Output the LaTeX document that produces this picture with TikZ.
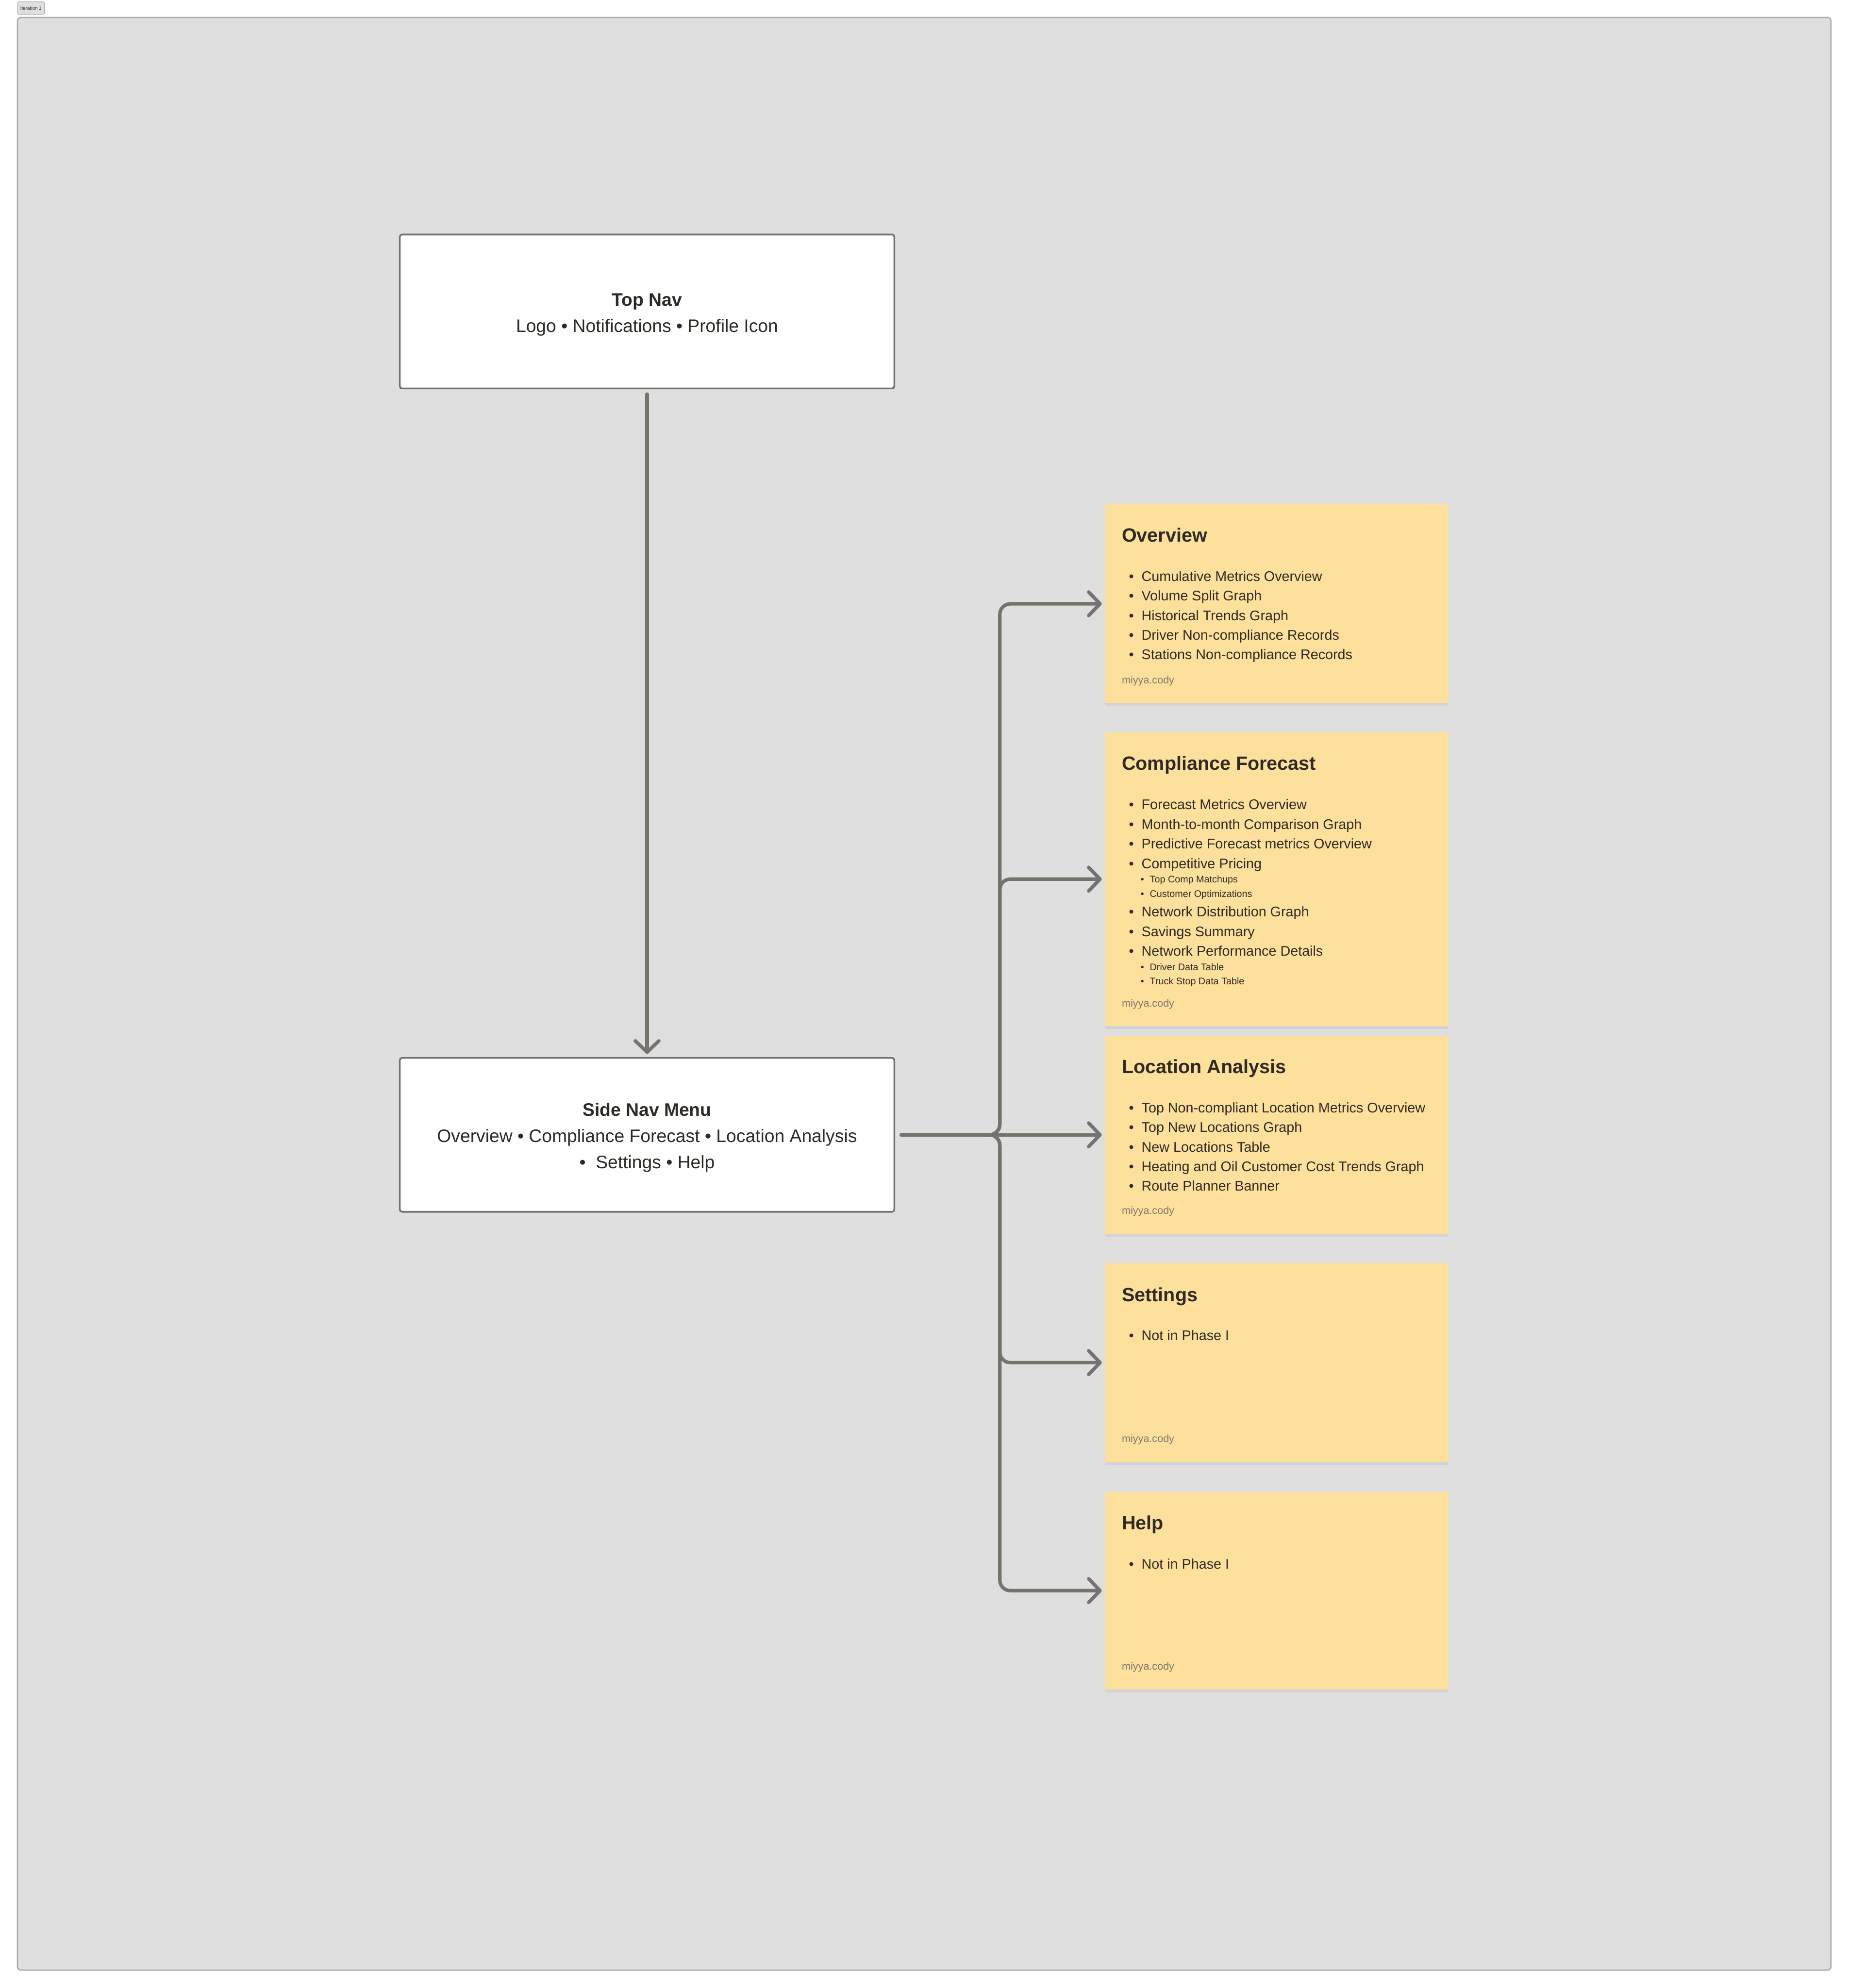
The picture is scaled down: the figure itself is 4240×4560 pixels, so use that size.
\documentclass[tikz,border=0pt]{standalone}
\usepackage{fontspec}
\setmainfont{Liberation Sans}
\usetikzlibrary{arrows.meta, positioning, calc, shadows}
\definecolor{boardgray}{HTML}{DFDFDF}
\definecolor{boardedge}{HTML}{B4AAAA}
\definecolor{linegray}{HTML}{75736C}
\definecolor{stickyyellow}{HTML}{FDE09B}
\definecolor{inkdark}{HTML}{2E2A25}
\definecolor{signgray}{HTML}{7B7872}
\newcommand{\toppad}{\rule{0pt}{43pt}}

\begin{document}
\begin{tikzpicture}[x=1pt, y=-1pt,
  every node/.style={text=inkdark, font=\fontsize{32}{40}\selectfont},
  navbox/.style={draw=linegray, line width=4pt, fill=white, rounded corners=5pt, minimum width=1134pt, minimum height=353pt, align=center, font=\fontsize{41.5}{60}\selectfont},
  sticky/.style={fill=stickyyellow, minimum width=787pt, inner sep=0pt, drop shadow={shadow xshift=0pt, shadow yshift=-7pt, opacity=0.12}},
  ttl/.style={anchor=base west, inner sep=0pt, font=\fontsize{44}{52}\selectfont\bfseries},
  itm/.style={anchor=base west, inner sep=0pt, font=\fontsize{32}{40}\selectfont, execute at begin node={\makebox[29pt][l]{\textbullet}}},
  sub/.style={anchor=base west, inner sep=0pt, xshift=27pt, font=\fontsize{22}{28}\selectfont, execute at begin node={\makebox[21pt][l]{\textbullet}}},
  sig/.style={anchor=base west, inner sep=0pt, text=signgray, font=\fontsize{24}{30}\selectfont},
  conn/.style={draw=linegray, line width=8pt, line cap=round, rounded corners=24pt, -{Straight Barb[length=26pt, width=54pt, round]}},
]
% board
\fill[white] (0,0) rectangle (4240,4560);
\draw[boardedge, fill=boardgray, line width=3pt, rounded corners=8pt] (40,40) rectangle (4199,4519);
\node[draw=boardedge, fill=boardgray, rounded corners=3pt, line width=1pt, font=\fontsize{11}{13}\selectfont, minimum width=62pt, minimum height=29pt, inner sep=0pt] (iter) at (71,18.5) {Iteration 1};

% nav boxes
\node[navbox] (topnav) at (1484,714.5) {\toppad\textbf{Top Nav}\\Logo • Notifications • Profile Icon};
\node[navbox] (sidenav) at (1484,2603) {\toppad\textbf{Side Nav Menu}\\Overview • Compliance Forecast • Location Analysis\\•\ \ Settings • Help};

% sticky notes
\node[sticky, minimum height=456pt] (ov) at (2927.5,1385) {};
\node[sticky, minimum height=673pt] (cf) at (2927.5,2016.5) {};
\node[sticky, minimum height=454pt] (la) at (2927.5,2603) {};
\node[sticky, minimum height=455pt] (st) at (2927.5,3125.5) {};
\node[sticky, minimum height=453pt] (hp) at (2927.5,3648.5) {};

% Overview
\node[ttl] (ov-t) at ($(ov.north west)+(39,86)$) {Overview};
\foreach \t [count=\i from 0] in {Cumulative Metrics Overview, Volume Split Graph, Historical Trends Graph, Driver Non-compliance Records, Stations Non-compliance Records}
  \node[itm] (ov-\i) at ($(ov.north west)+(55,176+45*\i)$) {\t};
\node[sig] (ov-s) at ($(ov.south west)+(39,-45)$) {miyya.cody};

% Compliance Forecast
\node[ttl] (cf-t) at ($(cf.north west)+(39,86)$) {Compliance Forecast};
\foreach \y/\t in {177/Forecast Metrics Overview, 222/Month-to-month Comparison Graph, 267/Predictive Forecast metrics Overview, 312/Competitive Pricing, 423/Network Distribution Graph, 468/Savings Summary, 513/Network Performance Details}
  \node[itm] (cf-\y) at ($(cf.north west)+(55,\y)$) {\t};
\foreach \y/\t in {345/Top Comp Matchups, 378/Customer Optimizations, 546/Driver Data Table, 579/Truck Stop Data Table}
  \node[sub] (cf-\y) at ($(cf.north west)+(55,\y)$) {\t};
\node[sig] (cf-s) at ($(cf.south west)+(39,-44)$) {miyya.cody};

% Location Analysis
\node[ttl] (la-t) at ($(la.north west)+(39,86)$) {Location Analysis};
\foreach \t [count=\i from 0] in {Top Non-compliant Location Metrics Overview, Top New Locations Graph, New Locations Table, Heating and Oil Customer Cost Trends Graph, Route Planner Banner}
  \node[itm] (la-\i) at ($(la.north west)+(55,176+45*\i)$) {\t};
\node[sig] (la-s) at ($(la.south west)+(39,-45)$) {miyya.cody};

% Settings, Help
\node[ttl] (st-t) at ($(st.north west)+(39,87)$) {Settings};
\node[itm] (st-0) at ($(st.north west)+(55,177)$) {Not in Phase I};
\node[sig] (st-s) at ($(st.south west)+(39,-45)$) {miyya.cody};
\node[ttl] (hp-t) at ($(hp.north west)+(39,87)$) {Help};
\node[itm] (hp-0) at ($(hp.north west)+(55,177)$) {Not in Phase I};
\node[sig] (hp-s) at ($(hp.south west)+(39,-45)$) {miyya.cody};

% connectors
\coordinate (bus) at (2293,2603);
\draw[conn, shorten <=11pt, shorten >=7pt] (topnav.south) -- (sidenav.north);
\draw[conn, shorten <=14pt, shorten >=7pt] (sidenav.east) -- (la.west);
\foreach \n in {ov, cf, st, hp}
  \draw[conn, shorten <=14pt, shorten >=7pt] (sidenav.east) -- (bus) |- (\n.west);
\end{tikzpicture}
\end{document}
